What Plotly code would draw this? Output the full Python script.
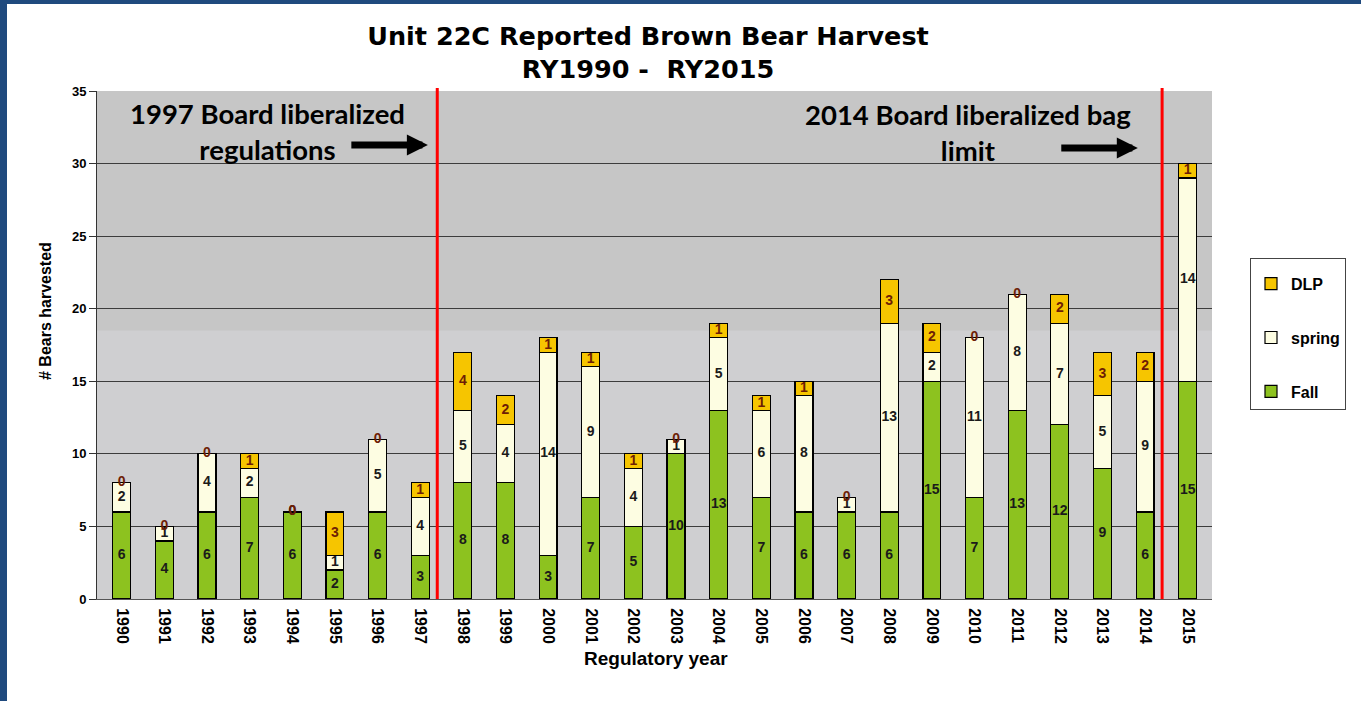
import plotly.graph_objects as go

# Unit 22C reported brown bear harvest, RY1990 - RY2015
years = list(range(1990, 2016))
fall = [6, 4, 6, 7, 6, 2, 6, 3, 8, 8, 3, 7, 5, 10, 13, 7, 6, 6, 6, 15, 7, 13, 12, 9, 6, 15]
spring = [2, 1, 4, 2, 0, 1, 5, 4, 5, 4, 14, 9, 4, 1, 5, 6, 8, 1, 13, 2, 11, 8, 7, 5, 9, 14]
dlp = [0, 0, 0, 1, 0, 3, 0, 1, 4, 2, 1, 1, 1, 0, 1, 1, 1, 0, 3, 2, 0, 0, 2, 3, 2, 1]

y_ticks = [0, 5, 10, 15, 20, 25, 30, 35]
reg_changes = [1997.4, 2014.4]  # red lines between seasons

# name, values, fill colour, label colour, legend rank
series = [
    ("Fall", fall, "#8dc21f", "#1a1a1a", 3),
    ("spring", spring, "#fdfde2", "#1a1a1a", 2),
    ("DLP", dlp, "#f6c500", "#6e1e05", 1),
]

W, H = 1361, 701
L, R, T, B = 97, 149, 91, 102


def px_x(px):
    return (px - L) / (W - L - R)


def px_y(py):
    return (H - B - py) / (H - T - B)


fig = go.Figure()

base = [0] * len(years)
for name, vals, color, txtcol, rank in series:
    fig.add_trace(go.Bar(
        x=years, y=vals, name=f"<b>{name}</b>", width=0.42,
        marker=dict(color=color, line=dict(color="black", width=1.2)),
        legendgroup=name, legendrank=rank,
    ))
    mids = [b + v / 2 for b, v in zip(base, vals)]
    fig.add_trace(go.Scatter(
        x=years, y=mids, mode="text", text=[f"<b>{v}</b>" for v in vals],
        textfont=dict(family="Arial, Liberation Sans", size=14, color=txtcol),
        showlegend=False, hoverinfo="skip", legendgroup=name,
    ))
    base = [b + v for b, v in zip(base, vals)]

# slightly darker upper band of the plot background
fig.add_shape(type="rect", xref="paper", yref="y", x0=0, x1=1, y0=18.5, y1=35,
              fillcolor="#c6c6c6", line_width=0, layer="below")

for xv in reg_changes:
    fig.add_shape(type="line", xref="x", yref="paper", x0=xv, x1=xv, y0=0, y1=1.006,
                  line=dict(color="#ff0000", width=3))

# blue slide frame
fig.add_shape(type="rect", xref="paper", yref="paper", x0=px_x(0), x1=px_x(7),
              y0=px_y(H), y1=px_y(0), fillcolor="#1f4a7e", line_width=0, layer="above")
fig.add_shape(type="rect", xref="paper", yref="paper", x0=px_x(0), x1=px_x(W),
              y0=px_y(4), y1=px_y(0), fillcolor="#1f4a7e", line_width=0, layer="above")

note_font = dict(family="Lato, Open Sans", size=27.5, color="black")
fig.add_annotation(x=1993.42, y=32.24, xref="x", yref="y", showarrow=False,
                   text="<b>1997 Board liberalized<br>regulations</b>", font=note_font)
fig.add_annotation(x=2009.84, y=32.14, xref="x", yref="y", showarrow=False,
                   text="<b>2014 Board liberalized bag<br>limit</b>", font=note_font)
fig.add_annotation(x=1997.18, y=31.28, ax=1995.35, ay=31.28, xref="x", yref="y",
                   axref="x", ayref="y", showarrow=True, arrowhead=2, arrowwidth=7,
                   arrowsize=0.6, arrowcolor="black", text="")
fig.add_annotation(x=2013.83, y=31.07, ax=2012.0, ay=31.07, xref="x", yref="y",
                   axref="x", ayref="y", showarrow=True, arrowhead=2, arrowwidth=7,
                   arrowsize=0.6, arrowcolor="black", text="")

fig.add_annotation(x=px_x(45), y=px_y(311), xref="paper", yref="paper", showarrow=False,
                   xanchor="center", yanchor="middle",
                   text="<b># Bears harvested</b>", textangle=-90,
                   font=dict(family="Arial, Liberation Sans", size=16, color="black"))
fig.add_annotation(x=px_x(656), y=px_y(658), xref="paper", yref="paper", showarrow=False,
                   xanchor="center", yanchor="middle",
                   text="<b>Regulatory year</b>",
                   font=dict(family="Arial, Liberation Sans", size=19, color="black"))

fig.update_layout(
    width=W, height=H,
    margin=dict(l=L, r=R, t=T, b=B),
    paper_bgcolor="white",
    plot_bgcolor="#cfcfd1",
    barmode="stack",
    title=dict(text="<b>Unit 22C Reported Brown Bear Harvest<br>RY1990 -  RY2015</b>",
               x=648 / W, xanchor="center", y=1 - 45 / H, yanchor="middle",
               font=dict(family="DejaVu Sans", size=25.5, color="black")),
    xaxis=dict(range=[1989.42, 2015.57], tickmode="array", tickvals=years,
               ticktext=[f"<b>{y}</b>" for y in years], tickangle=90,
               tickfont=dict(family="Arial, Liberation Sans", size=16, color="black"),
               showgrid=False, showline=True, linecolor="#555555",
               ticks="outside", ticklen=5, tickcolor="rgba(0,0,0,0)"),
    yaxis=dict(range=[0, 35], tickmode="array", tickvals=y_ticks,
               ticktext=[f"<b>{v}</b>" for v in y_ticks],
               tickfont=dict(family="Arial, Liberation Sans", size=13, color="black"),
               showgrid=True, gridcolor="#3c3c3c", gridwidth=1,
               showline=True, linecolor="#333333", ticks="outside", ticklen=7,
               tickcolor="#333333", zeroline=False),
    legend=dict(x=px_x(1250), y=px_y(258), xanchor="left", yanchor="top",
                traceorder="grouped", tracegroupgap=30,
                bgcolor="white", bordercolor="#444444", borderwidth=1,
                entrywidth=140,
                title=dict(text="&nbsp;", font=dict(size=6)),
                font=dict(family="Arial, Liberation Sans", size=16, color="black")),
    showlegend=True,
)

fig.write_html("out.html", config={"displayModeBar": False},
               post_script="document.body.style.margin='0';")
